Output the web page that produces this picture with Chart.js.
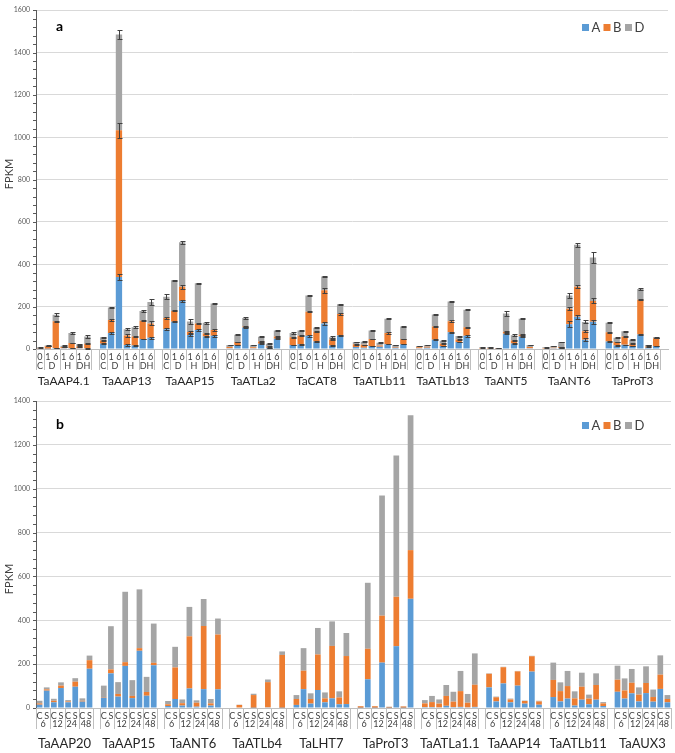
<!DOCTYPE html>
<html>
<head>
<meta charset="utf-8">
<script src="https://cdn.jsdelivr.net/npm/chart.js@4.4.1/dist/chart.umd.min.js"></script>
<style>
  body { margin: 0; background: #fff; width: 675px; height: 753px; overflow: hidden; position: relative; }
  canvas { position: absolute; left: 0; }
  #ca { top: 0; }
  #cb { top: 390px; }
</style>
</head>
<body>
<canvas id="ca" width="675" height="390"></canvas>
<canvas id="cb" width="675" height="363"></canvas>
<script>
// ---- panel a: 0 C, 1/6 D, 1/6 H, 1/6 DH ----
var genesA = ['TaAAP4.1', 'TaAAP13', 'TaAAP15', 'TaATLa2', 'TaCAT8', 'TaATLb11', 'TaATLb13', 'TaANT5', 'TaANT6', 'TaProT3'];
var timesA = ['0', '1', '6', '1', '6', '1', '6'];
var treatA = ['C', 'D', 'H', 'DH'];
var treatSpanA = [1, 2, 2, 2];

var aA = [
  [1, 1, 5, 3, 4, 4, 3],
  [25, 76, 340, 19, 17, 47, 53],
  [93, 129, 227, 66, 90, 59, 62],
  [4, 19, 101, 4, 25, 6, 48],
  [19, 23, 62, 36, 121, 16, 64],
  [9, 6, 14, 11, 23, 6, 23],
  [4, 6, 44, 14, 79, 33, 62],
  [2, 2, 1, 72, 26, 59, 4],
  [2, 3, 5, 117, 152, 44, 129],
  [36, 16, 20, 14, 68, 6, 14]
];
var aB = [
  [2, 12, 126, 7, 24, 8, 22],
  [15, 61, 693, 45, 42, 87, 68],
  [53, 51, 67, 14, 31, 14, 28],
  [6, 14, 5, 4, 11, 6, 11],
  [37, 39, 114, 46, 157, 29, 101],
  [13, 14, 33, 6, 53, 3, 24],
  [4, 5, 62, 11, 52, 12, 41],
  [3, 3, 2, 9, 14, 8, 5],
  [3, 3, 5, 73, 142, 40, 98],
  [43, 17, 39, 11, 165, 6, 37]
];
var aD = [
  [5, 4, 31, 5, 47, 10, 34],
  [16, 59, 452, 29, 44, 46, 101],
  [101, 145, 210, 50, 190, 51, 125],
  [9, 34, 40, 11, 22, 13, 28],
  [19, 25, 77, 18, 64, 11, 46],
  [11, 14, 40, 13, 67, 10, 59],
  [6, 8, 57, 14, 93, 16, 82],
  [3, 3, 2, 87, 25, 76, 10],
  [3, 8, 23, 63, 198, 44, 205],
  [45, 20, 25, 19, 50, 7, 5]
];
// error bars (half length), per series
var aErrA = [
  [0, 0, 1, 0, 1, 0, 1],
  [2, 3, 15, 3, 2, 2, 6],
  [4, 2, 5, 6, 6, 4, 5],
  [0, 1, 2, 0, 2, 1, 2],
  [1, 2, 3, 2, 7, 1, 2],
  [0, 0, 1, 0, 1, 0, 1],
  [0, 0, 2, 1, 3, 1, 3],
  [0, 0, 0, 3, 2, 3, 0],
  [0, 0, 1, 15, 10, 6, 10],
  [2, 1, 1, 1, 3, 0, 1]
];
var aErrB = [
  [0, 1, 2, 1, 2, 1, 3],
  [2, 3, 35, 5, 3, 3, 10],
  [3, 2, 10, 4, 3, 4, 5],
  [0, 2, 1, 0, 2, 1, 1],
  [2, 2, 2, 2, 12, 2, 3],
  [1, 1, 2, 0, 3, 0, 2],
  [0, 0, 2, 1, 5, 1, 2],
  [0, 0, 0, 3, 2, 2, 0],
  [0, 0, 1, 8, 6, 6, 12],
  [2, 1, 2, 1, 3, 1, 1]
];
var aErrD = [
  [1, 1, 8, 2, 3, 2, 9],
  [3, 4, 22, 4, 5, 4, 13],
  [12, 2, 6, 13, 2, 5, 2],
  [2, 3, 3, 2, 2, 2, 3],
  [3, 3, 2, 3, 3, 5, 3],
  [2, 2, 2, 2, 2, 2, 2],
  [1, 1, 2, 2, 3, 2, 2],
  [1, 1, 1, 12, 5, 2, 2],
  [1, 1, 2, 10, 10, 7, 25],
  [2, 2, 3, 2, 5, 2, 2]
];

// ---- panel b: C/S at 6, 12, 24, 48 ----
var genesB = ['TaAAP20', 'TaAAP15', 'TaANT6', 'TaATLb4', 'TaLHT7', 'TaProT3', 'TaATLa1.1', 'TaAAP14', 'TaATLb11', 'TaAUX3'];
var condB = ['C', 'S'];
var hoursB = ['6', '12', '24', '48'];

var bA = [
  [15, 79, 26, 91, 26, 97, 29, 179],
  [47, 158, 52, 192, 45, 261, 56, 195],
  [9, 41, 11, 89, 6, 86, 11, 85],
  [0, 0, 0, 1, 0, 3, 0, 1],
  [14, 86, 20, 82, 26, 44, 17, 18],
  [1, 131, 1, 207, 1, 282, 1, 498],
  [4, 4, 3, 10, 4, 5, 3, 5],
  [94, 30, 112, 26, 102, 20, 166, 15],
  [50, 30, 43, 11, 38, 17, 38, 9],
  [74, 43, 67, 30, 68, 29, 87, 26]
];
var bB = [
  [6, 6, 7, 11, 4, 23, 4, 39],
  [3, 18, 12, 17, 10, 12, 17, 11],
  [8, 144, 11, 238, 18, 288, 10, 250],
  [0, 14, 0, 58, 0, 115, 0, 241],
  [27, 84, 21, 162, 18, 239, 31, 219],
  [7, 139, 7, 214, 4, 225, 6, 222],
  [17, 23, 17, 45, 25, 72, 21, 101],
  [62, 19, 74, 13, 65, 12, 70, 15],
  [78, 47, 57, 33, 59, 26, 67, 12],
  [55, 37, 48, 31, 46, 21, 65, 15]
];
var bD = [
  [12, 9, 9, 15, 6, 16, 11, 21],
  [52, 197, 54, 321, 72, 268, 69, 179],
  [15, 94, 17, 134, 11, 123, 20, 73],
  [0, 1, 0, 6, 0, 12, 0, 16],
  [18, 103, 26, 121, 27, 112, 28, 105],
  [1, 301, 1, 548, 1, 644, 1, 615],
  [15, 28, 19, 50, 45, 92, 40, 143],
  [2, 3, 2, 4, 2, 2, 2, 3],
  [79, 40, 69, 32, 64, 18, 53, 6],
  [64, 55, 63, 33, 76, 34, 88, 18]
];

var SERIES = ['A', 'B', 'D'];
var COLORS = ['#5B9BD5', '#ED7D31', '#A5A5A5'];
var FONT = 'Lato, "Open Sans", sans-serif';

// genes side by side, one empty slot between them
function flatten(rows, trailing){
  var out = [];
  rows.forEach(function(r, i){
    r.forEach(function(v){ out.push(v); });
    if(trailing || i < rows.length - 1) out.push(null);
  });
  return out;
}

function makeDeco(cfg){
  return {
    id: 'deco',
    afterDatasetsDraw: function(chart){
      if(!cfg.err) return;
      var ctx = chart.ctx, ys = chart.scales.y;
      ctx.save();
      ctx.strokeStyle = '#404040';
      ctx.lineWidth = 1;
      cfg.err.forEach(function(e, di){
        var flat = flatten(e, cfg.trailing);
        var meta = chart.getDatasetMeta(di);
        flat.forEach(function(v, j){
          if(!v) return;
          var bar = meta.data[j];
          var dy = ys.getPixelForValue(0) - ys.getPixelForValue(v);
          var x = Math.round(bar.x) + 0.5;
          var t = Math.round(bar.y - dy) + 0.5, b = Math.round(bar.y + dy) + 0.5;
          ctx.beginPath();
          ctx.moveTo(x, t); ctx.lineTo(x, b);
          ctx.moveTo(x - 2, t); ctx.lineTo(x + 3, t);
          ctx.moveTo(x - 2, b); ctx.lineTo(x + 3, b);
          ctx.stroke();
        });
      });
      ctx.restore();
    },
    afterDraw: function(chart){
      var ctx = chart.ctx, xs = chart.scales.x, ys = chart.scales.y, area = chart.chartArea;
      var step = xs.getPixelForValue(1) - xs.getPixelForValue(0);
      var per = cfg.row1.length + 1;
      var edge = function(k){ return xs.left + k * step; };
      ctx.save();

      // minor ticks on the value axis
      ctx.strokeStyle = '#595959';
      ctx.lineWidth = 1;
      ctx.beginPath();
      for(var v = 0; v <= cfg.max; v += 40){
        var py = Math.round(ys.getPixelForValue(v)) + 0.5;
        ctx.moveTo(area.left - 3, py); ctx.lineTo(area.left, py);
      }
      ctx.stroke();

      // category separators
      ctx.strokeStyle = '#BFBFBF';
      ctx.beginPath();
      cfg.genes.forEach(function(g, gi){
        var k = gi * per;
        var ks = [k];
        cfg.spans.forEach(function(n){ k += n; ks.push(k); });
        ks.forEach(function(kk){
          var px = Math.round(edge(kk)) + 0.5;
          ctx.moveTo(px, area.bottom); ctx.lineTo(px, area.bottom + cfg.sepLen);
        });
      });
      ctx.stroke();

      // three label rows
      ctx.textAlign = 'center';
      ctx.textBaseline = 'middle';
      cfg.genes.forEach(function(g, gi){
        var s = gi * per;
        ctx.fillStyle = '#404040';
        ctx.font = cfg.f1 + 'px ' + FONT;
        cfg.row1.forEach(function(t, j){
          ctx.fillText(t, xs.getPixelForValue(s + j), area.bottom + cfg.y1);
        });
        var k = s;
        cfg.row2.forEach(function(t, j){
          var n = cfg.spans[j];
          ctx.fillText(t, (edge(k) + edge(k + n)) / 2, area.bottom + cfg.y2);
          k += n;
        });
        ctx.fillStyle = '#262626';
        ctx.font = cfg.f3 + 'px ' + FONT;
        ctx.fillText(g, (edge(s) + edge(s + cfg.row1.length)) / 2, area.bottom + cfg.y3);
      });

      // axis title
      ctx.save();
      ctx.translate(9, cfg.titleY);
      ctx.rotate(-Math.PI / 2);
      ctx.font = '11px ' + FONT;
      ctx.fillStyle = '#404040';
      ctx.fillText('FPKM', 0, 0);
      ctx.restore();

      // panel letter
      ctx.font = 'bold 14px ' + FONT;
      ctx.fillStyle = '#000';
      ctx.textAlign = 'left';
      ctx.textBaseline = 'alphabetic';
      ctx.fillText(cfg.letter, 56, cfg.legendY + 7);

      // legend
      var lx = 582;
      ctx.font = '13px ' + FONT;
      SERIES.forEach(function(name, i){
        ctx.fillStyle = COLORS[i];
        ctx.fillRect(lx, cfg.legendY, 7, 7);
        ctx.fillStyle = '#404040';
        ctx.fillText(name, lx + 9.5, cfg.legendY + 7.5);
        lx += 21.5;
      });
      ctx.restore();
    }
  };
}

function build(id, cfg){
  var sets = [cfg.a, cfg.b, cfg.d].map(function(rows, i){
    return {
      label: SERIES[i],
      data: flatten(rows, cfg.trailing),
      backgroundColor: COLORS[i],
      barPercentage: 0.8,
      categoryPercentage: 1,
      stack: 's'
    };
  });
  var labels = sets[0].data.map(function(_, i){ return String(i); });
  return new Chart(document.getElementById(id), {
    type: 'bar',
    data: { labels: labels, datasets: sets },
    options: {
      responsive: false,
      animation: false,
      layout: { padding: { top: cfg.top, right: cfg.right, left: 0, bottom: 0 } },
      plugins: { legend: { display: false }, tooltip: { enabled: false } },
      scales: {
        x: {
          stacked: true,
          ticks: { display: false },
          grid: { display: false },
          border: { color: '#BFBFBF' },
          afterFit: function(s){ s.height = cfg.xh; }
        },
        y: {
          stacked: true,
          min: 0,
          max: cfg.max,
          ticks: {
            stepSize: 200,
            font: { size: 7, family: FONT },
            color: '#595959',
            padding: 6,
            callback: function(v){ return String(v); }
          },
          grid: { color: '#D9D9D9', drawTicks: false },
          border: { color: '#595959' },
          afterFit: function(s){ s.width = 36; }
        }
      }
    },
    plugins: [makeDeco(cfg)]
  });
}

build('ca', {
  a: aA, b: aB, d: aD, err: [aErrA, aErrB, aErrD],
  genes: genesA, row1: timesA, row2: treatA, spans: treatSpanA,
  trailing: true, max: 1600, top: 6, right: 7, xh: 41,
  sepLen: 21, y1: 8, y2: 17, y3: 32, f1: 9, f3: 12,
  titleY: 174, letter: 'a', legendY: 24
});

build('cb', {
  a: bA, b: bB, d: bD, err: null,
  genes: genesB,
  row1: hoursB.map(function(){ return condB; }).reduce(function(p, c){ return p.concat(c); }, []),
  row2: hoursB, spans: [2, 2, 2, 2],
  trailing: false, max: 1400, top: 11, right: 4, xh: 45,
  sepLen: 21, y1: 8, y2: 16, y3: 36, f1: 9, f3: 13,
  titleY: 189, letter: 'b', legendY: 32
});
</script>
</body>
</html>
